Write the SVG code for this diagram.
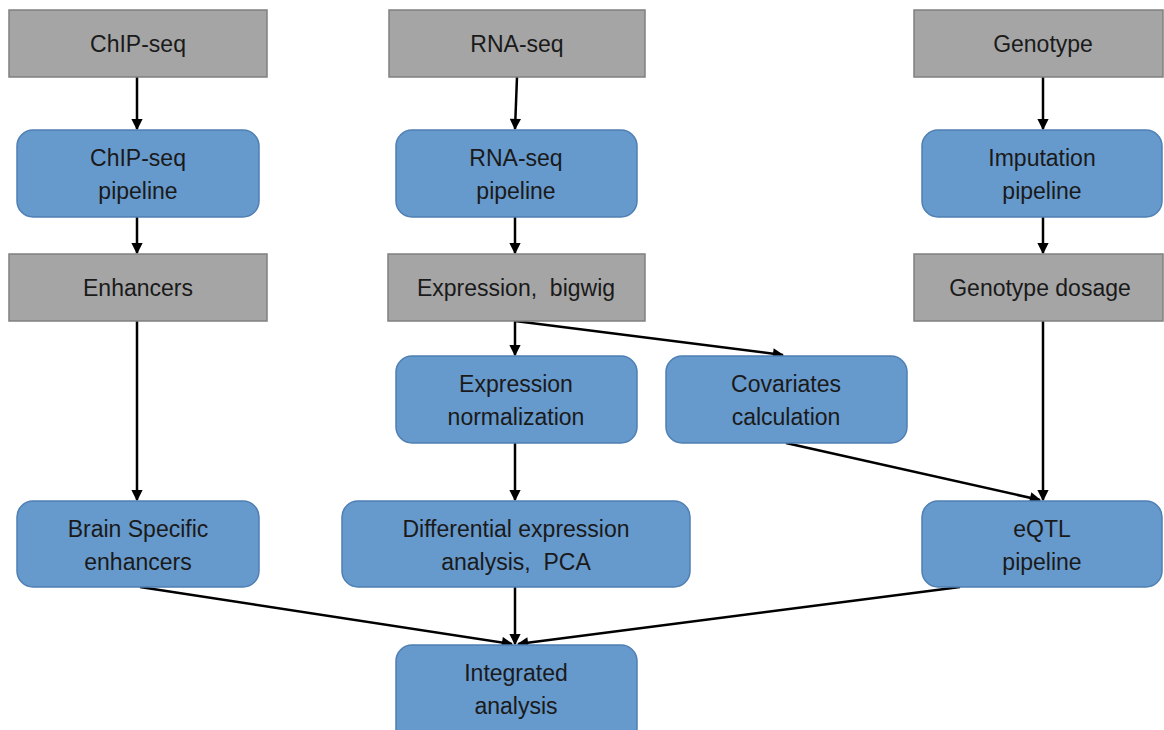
<svg xmlns="http://www.w3.org/2000/svg" width="1164" height="730" viewBox="0 0 1164 730">
<defs>
<style>
.g{fill:#a5a5a5;stroke:#808080;stroke-width:1.5}
.b{fill:#6699cc;stroke:#4f7fb3;stroke-width:1.5}
text{font-family:"Liberation Sans",Arial,sans-serif;font-size:23px;fill:#1a1a1a;text-anchor:middle;white-space:pre}
.c{stroke:#000;stroke-width:2.5;fill:none;marker-end:url(#ah)}
</style>
<marker id="ah" viewBox="0 0 10 10" refX="9" refY="5" markerWidth="5" markerHeight="4.5" orient="auto" markerUnits="strokeWidth">
<path d="M0,0 L10,5 L0,10 z" fill="#000"/>
</marker>
</defs>
<rect width="1164" height="730" fill="#fff"/>
<g id="connectors">
<line class="c" x1="137" y1="77" x2="137" y2="129"/>
<line class="c" x1="517" y1="77" x2="515" y2="129"/>
<line class="c" x1="1043" y1="77" x2="1043" y2="129"/>
<line class="c" x1="137" y1="217" x2="137" y2="253"/>
<line class="c" x1="515" y1="217" x2="515" y2="253"/>
<line class="c" x1="1043" y1="217" x2="1043" y2="253"/>
<line class="c" x1="137" y1="321" x2="137" y2="500"/>
<line class="c" x1="515" y1="321" x2="515" y2="355"/>
<line class="c" x1="515" y1="321" x2="783" y2="355"/>
<line class="c" x1="1043" y1="321" x2="1043" y2="500"/>
<line class="c" x1="786" y1="443" x2="1040" y2="500"/>
<line class="c" x1="515" y1="443" x2="515" y2="500"/>
<line class="c" x1="515" y1="587" x2="515" y2="644"/>
<line class="c" x1="140" y1="587" x2="512" y2="644"/>
<line class="c" x1="960" y1="587" x2="518" y2="644"/>
</g>
<g id="chipseq"><rect class="g" x="9" y="10" width="258" height="67"/><text x="138" y="52">ChIP-seq</text></g>
<g id="rnaseq"><rect class="g" x="389" y="10" width="256" height="67"/><text x="517" y="52">RNA-seq</text></g>
<g id="genotype"><rect class="g" x="914" y="10" width="249" height="67"/><text x="1043" y="52">Genotype</text></g>
<g id="chippipe"><rect class="b" x="17" y="130" width="242" height="87" rx="16"/><text x="138" y="166">ChIP-seq</text><text x="138" y="199">pipeline</text></g>
<g id="rnapipe"><rect class="b" x="396" y="130" width="241" height="87" rx="16"/><text x="516" y="166">RNA-seq</text><text x="516" y="199">pipeline</text></g>
<g id="imppipe"><rect class="b" x="922" y="130" width="240" height="87" rx="16"/><text x="1042" y="166">Imputation</text><text x="1042" y="199">pipeline</text></g>
<g id="enhancers"><rect class="g" x="9" y="254" width="258" height="67"/><text x="138" y="296">Enhancers</text></g>
<g id="exprbw"><rect class="g" x="388" y="254" width="257" height="67"/><text x="516" y="296" xml:space="preserve">Expression,  bigwig</text></g>
<g id="gtdosage"><rect class="g" x="914" y="254" width="249" height="67"/><text x="1040" y="296">Genotype dosage</text></g>
<g id="exprnorm"><rect class="b" x="396" y="356" width="241" height="87" rx="16"/><text x="516" y="392">Expression</text><text x="516" y="425">normalization</text></g>
<g id="covar"><rect class="b" x="666" y="356" width="241" height="87" rx="16"/><text x="786" y="392">Covariates</text><text x="786" y="425">calculation</text></g>
<g id="brain"><rect class="b" x="17" y="501" width="242" height="86" rx="16"/><text x="138" y="537">Brain Specific</text><text x="138" y="570">enhancers</text></g>
<g id="diffexpr"><rect class="b" x="342" y="501" width="348" height="86" rx="16"/><text x="516" y="537">Differential expression</text><text x="516" y="570" xml:space="preserve">analysis,  PCA</text></g>
<g id="eqtl"><rect class="b" x="922" y="501" width="240" height="86" rx="16"/><text x="1042" y="537">eQTL</text><text x="1042" y="570">pipeline</text></g>
<g id="integrated"><rect class="b" x="396" y="645" width="241" height="100" rx="16"/><text x="516" y="681">Integrated</text><text x="516" y="714">analysis</text></g>
</svg>
